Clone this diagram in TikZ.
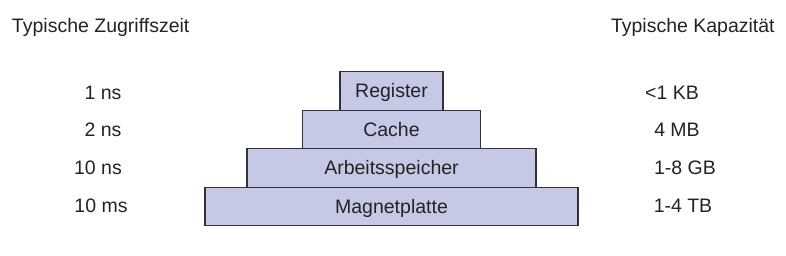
\documentclass[tikz,border=0pt]{standalone}
\usepackage{fontspec}
\setmainfont{Liberation Sans}
\usepackage{xcolor}
\usetikzlibrary{positioning}
\definecolor{stufe}{RGB}{197,201,229}
\definecolor{rand}{RGB}{50,50,55}
\definecolor{schrift}{RGB}{35,35,35}

\begin{document}
\begin{tikzpicture}[
        x=1pt, y=-1pt,
        font=\fontsize{19.5}{23}\selectfont,
        every node/.style={inner sep=0pt, outer sep=0pt, text=schrift},
        level/.style ={draw=rand, fill=stufe, line width=1.4pt, minimum height=38.5pt, text depth=1pt},
        kopf/.style  ={anchor=west},
        wert/.style  ={anchor=center},
    ]
        \useasboundingbox (0,0) rectangle (786,256);

        % --- Pyramide ---
        \node[level, minimum width=103pt] at (391.5,91) (reg) {Register};
        \node[level, minimum width=178pt, below=0pt of reg] (cache) {Cache};
        \node[level, minimum width=289pt, below=0pt of cache] (ram) {Arbeitsspeicher};
        \node[level, minimum width=373pt, below=0pt of ram] (disk) {Magnetplatte};

        % --- Spaltenkoepfe ---
        \node[kopf] at (12,27) (zeit) {Typische Zugriffszeit};
        \node[kopf] at (611,27) (kap) {Typische Kapazität};

        % --- Zugriffszeiten ---
        \node[wert] at (103,93) (t1) {1 ns};
        \node[wert] at (103,130) (t2) {2 ns};
        \node[wert] at (98,168) (t3) {10 ns};
        \node[wert] at (101,206) (t4) {10 ms};

        % --- Kapazitaeten ---
        \node[wert] at (672,93) (k1) {<1 KB};
        \node[wert] at (677,130) (k2) {4 MB};
        \node[wert] at (685,168) (k3) {1-8 GB};
        \node[wert] at (683,206) (k4) {1-4 TB};
    \end{tikzpicture}
\end{document}
